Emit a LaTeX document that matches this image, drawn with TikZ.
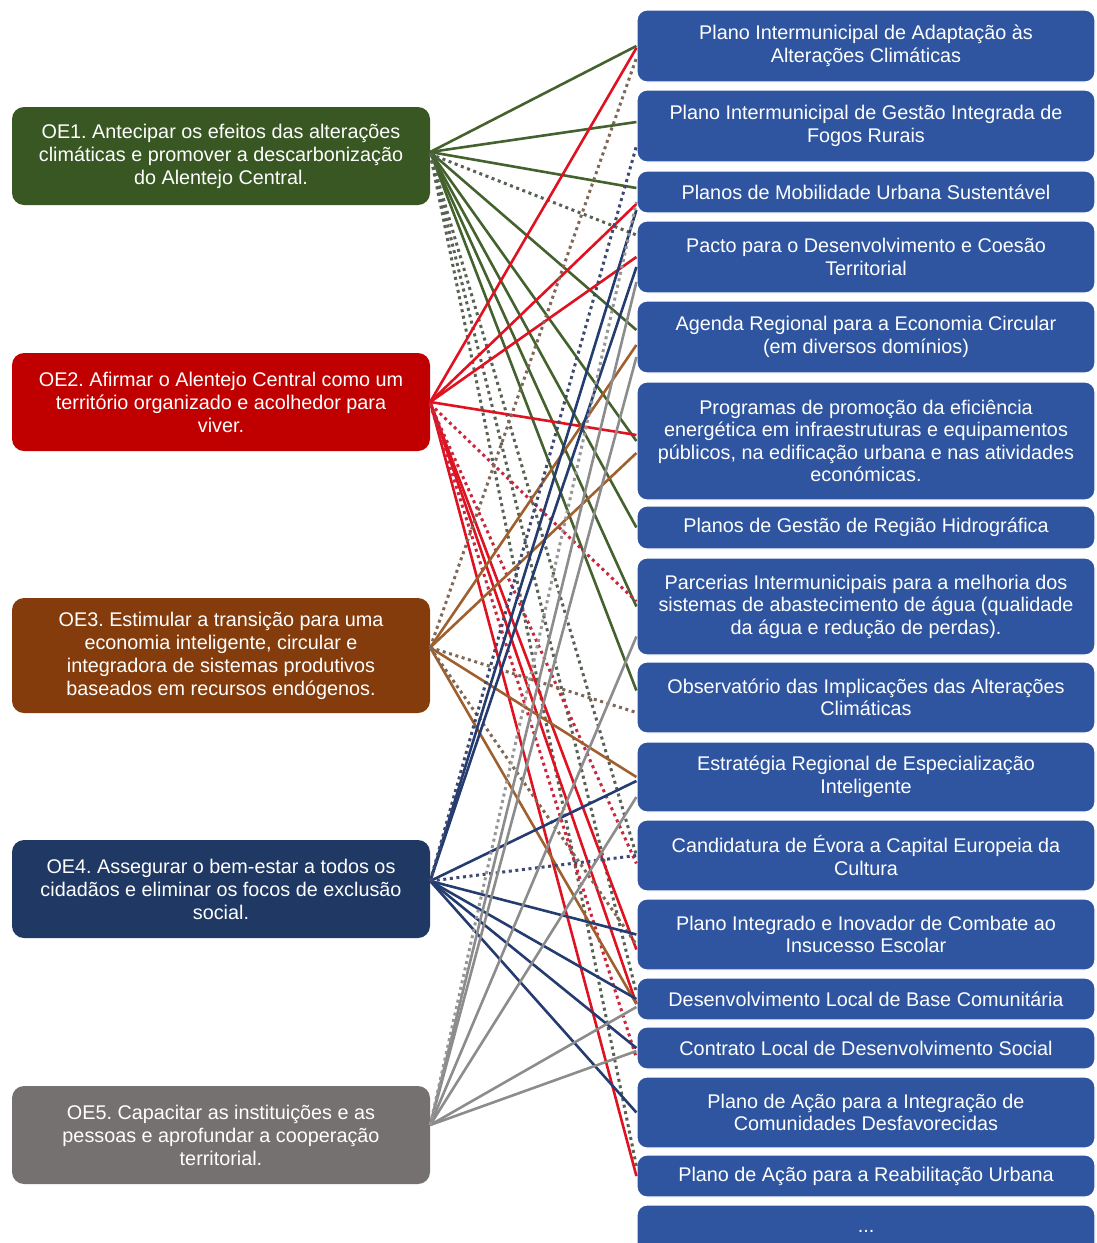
\documentclass[tikz,border=0pt]{standalone}
\usepackage{fontspec}
\setmainfont{Liberation Sans}
\usetikzlibrary{calc}
\definecolor{oegreen}{RGB}{56,87,35}
\definecolor{oered}{RGB}{192,0,0}
\definecolor{oebrown}{RGB}{132,60,12}
\definecolor{oenavy}{RGB}{31,56,100}
\definecolor{oegrey}{RGB}{118,113,113}
\definecolor{planblue}{RGB}{47,85,160}
\definecolor{greenline}{RGB}{68,98,45}
\definecolor{redline}{RGB}{222,18,32}
\definecolor{brownline}{RGB}{158,96,46}
\definecolor{navyline}{RGB}{36,60,112}
\definecolor{greyline}{RGB}{140,140,140}
\definecolor{greendot}{RGB}{88,98,84}
\definecolor{reddot}{RGB}{200,40,62}
\definecolor{browndot}{RGB}{128,104,86}
\definecolor{navydot}{RGB}{62,72,112}
\definecolor{greydot}{RGB}{150,150,150}
\frenchspacing

\begin{document}
\begin{tikzpicture}[x=1pt,y=-1pt,
	oebox/.style={rounded corners=12pt, text=white, align=center, minimum width=418pt, inner sep=0pt, font=\fontsize{19.8}{23}\selectfont},
	planbox/.style={rounded corners=10pt, fill=planblue, draw=white, line width=1.2pt, text=white, align=center, minimum width=458pt, inner sep=0pt, font=\fontsize{19.8}{22.5}\selectfont},
	link/.style={line width=2.6pt},
	dotlink/.style={line width=3pt, dash pattern=on 3pt off 3.6pt}]
		\useasboundingbox (0,0) rectangle (1096,1243);
		\clip (0,0) rectangle (1096,1243);
		% objetivos estrategicos
		\node[oebox, fill=oegreen, minimum height=98pt] (oe1) at (221,156) {OE1. Antecipar os efeitos das alterações\\climáticas e promover a descarbonização\\do Alentejo Central.};
		\node[oebox, fill=oered, minimum height=98pt] (oe2) at (221,402) {OE2. Afirmar o Alentejo Central como um\\território organizado e acolhedor para\\viver.};
		\node[oebox, fill=oebrown, minimum height=115pt] (oe3) at (221,655.5) {OE3. Estimular a transição para uma\\economia inteligente, circular e\\integradora de sistemas produtivos\\baseados em recursos endógenos.};
		\node[oebox, fill=oenavy, minimum height=98pt] (oe4) at (221,889) {OE4. Assegurar o bem-estar a todos os\\cidadãos e eliminar os focos de exclusão\\social.};
		\node[oebox, fill=oegrey, minimum height=98pt] (oe5) at (221,1135) {OE5. Capacitar as instituições e as\\pessoas e aprofundar a cooperação\\territorial.};
		% planos e instrumentos
		\node[planbox, minimum height=72pt] (r1) at (866,46) {Plano Intermunicipal de Adaptação às\\Alterações Climáticas};
		\node[planbox, minimum height=72pt] (r2) at (866,126) {Plano Intermunicipal de Gestão Integrada de\\Fogos Rurais};
		\node[planbox, minimum height=42pt] (r3) at (866,192) {Planos de Mobilidade Urbana Sustentável};
		\node[planbox, minimum height=72pt] (r4) at (866,257) {Pacto para o Desenvolvimento e Coesão\\Territorial};
		\node[planbox, minimum height=72pt] (r5) at (866,337) {Agenda Regional para a Economia Circular\\(em diversos domínios)};
		\node[planbox, minimum height=118pt] (r6) at (866,441) {Programas de promoção da eficiência\\energética em infraestruturas e equipamentos\\públicos, na edificação urbana e nas atividades\\económicas.};
		\node[planbox, minimum height=43pt] (r7) at (866,527.5) {Planos de Gestão de Região Hidrográfica};
		\node[planbox, minimum height=97pt] (r8) at (866,606.5) {Parcerias Intermunicipais para a melhoria dos\\sistemas de abastecimento de água (qualidade\\da água e redução de perdas).};
		\node[planbox, minimum height=71pt] (r9) at (866,697.5) {Observatório das Implicações das Alterações\\Climáticas};
		\node[planbox, minimum height=70pt] (r10) at (866,777) {Estratégia Regional de Especialização\\Inteligente};
		\node[planbox, minimum height=71pt] (r11) at (866,855.5) {Candidatura de Évora a Capital Europeia da\\Cultura};
		\node[planbox, minimum height=71pt] (r12) at (866,934.5) {Plano Integrado e Inovador de Combate ao\\Insucesso Escolar};
		\node[planbox, minimum height=42pt] (r13) at (866,999) {Desenvolvimento Local de Base Comunitária};
		\node[planbox, minimum height=42pt] (r14) at (866,1048) {Contrato Local de Desenvolvimento Social};
		\node[planbox, minimum height=71pt] (r15) at (866,1112.5) {Plano de Ação para a Integração de\\Comunidades Desfavorecidas};
		\node[planbox, minimum height=42pt] (r16) at (866,1176) {Plano de Ação para a Reabilitação Urbana};
		\node[planbox, minimum height=52pt] (r17) at (866,1231) {...};
		% OE1
		\foreach \plan/\dy in {r1/0,r2/4,r3/4,r5/7,r6/0,r7/0,r8/0,r9/7}{
			\draw[link,greenline] ([yshift=4pt]oe1.east) -- ([yshift=\dy pt]\plan.west);
		}
		\foreach \plan/\dy in {r4/22,r11/0,r13/6,r16/10}{
			\draw[dotlink,greendot] ([yshift=2pt]oe1.east) -- ([yshift=\dy pt]\plan.west);
		}
		% OE2
		\foreach \plan/\dy in {r1/-2,r3/-12,r4/0,r6/6,r12/-15,r13/-5,r16/0}{
			\draw[link,redline] (oe2.east) -- ([yshift=\dy pt]\plan.west);
		}
		\foreach \plan/\dy in {r8/5,r11/-8,r14/-10}{
			\draw[dotlink,reddot] ([yshift=-2pt]oe2.east) -- ([yshift=\dy pt]\plan.west);
		}
		% OE3
		\foreach \plan/\dy in {r5/-8,r6/-12,r10/0,r13/-5}{
			\draw[link,brownline] ([yshift=8pt]oe3.east) -- ([yshift=\dy pt]\plan.west);
		}
		\foreach \plan/\dy in {r1/-12,r9/-15,r12/-10}{
			\draw[dotlink,browndot] ([yshift=8pt]oe3.east) -- ([yshift=\dy pt]\plan.west);
		}
		% OE4
		\foreach \plan/\dy in {r3/-18,r4/-10,r10/-4,r12/0,r13/0,r14/0,r15/0}{
			\draw[link,navyline] ([yshift=8pt]oe4.east) -- ([yshift=\dy pt]\plan.west);
		}
		\foreach \plan/\dy in {r2/-20,r11/0}{
			\draw[dotlink,navydot] ([yshift=8pt]oe4.east) -- ([yshift=\dy pt]\plan.west);
		}
		% OE5
		\foreach \plan/\dy in {r4/-25,r5/-20,r8/-30,r10/-20,r13/-8,r14/-3}{
			\draw[link,greyline] ([yshift=10pt]oe5.east) -- ([yshift=\dy pt]\plan.west);
		}
		\foreach \plan/\dy in {r3/-10}{
			\draw[dotlink,greydot] ([yshift=10pt]oe5.east) -- ([yshift=\dy pt]\plan.west);
		}
	\end{tikzpicture}
\end{document}
